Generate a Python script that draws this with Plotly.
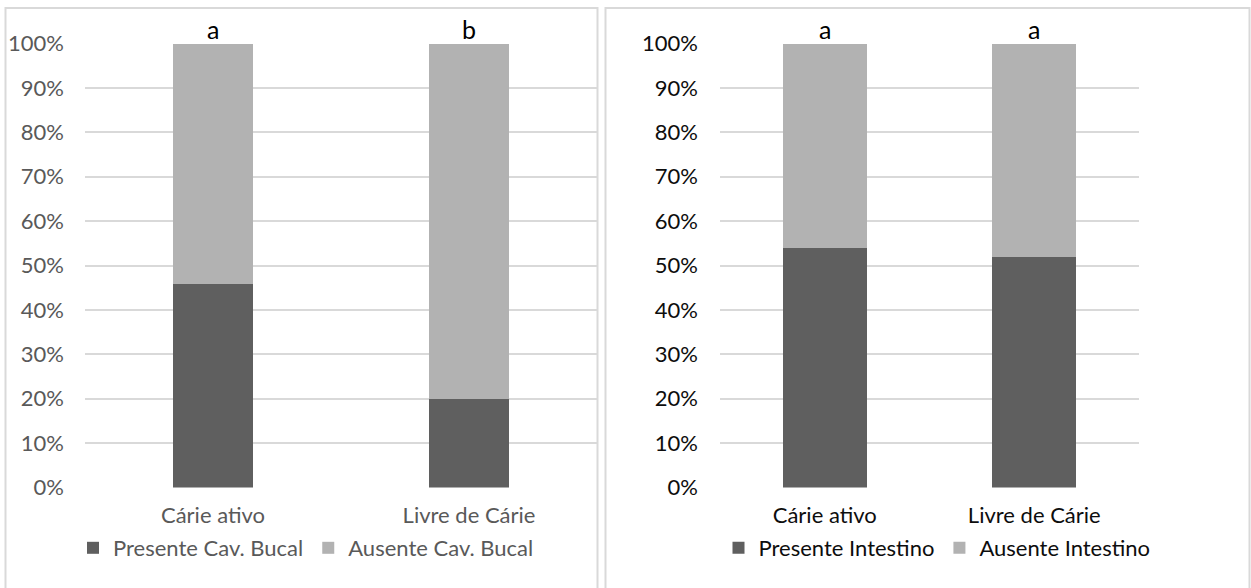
import plotly.graph_objects as go

categories = ["Cárie ativo", "Livre de Cárie"]
bucal_presente = [0.46, 0.20]
bucal_ausente = [0.54, 0.80]
bucal_letters = ["a", "b"]
intest_presente = [0.54, 0.52]
intest_ausente = [0.46, 0.48]
intest_letters = ["a", "a"]
tick_vals = [i / 10 for i in range(11)]
tick_text = [f"{i*10}%" for i in range(11)]

W, H = 1251, 588
DARK = "#5f5f5f"
LIGHT = "#b2b2b2"
GRID = "#d9d9d9"
FONT = "Lato"
GREY_TXT = "#595959"
BLACK_TXT = "#0d0d0d"

def px(x):
    return x / W

def py(y):
    return 1 - y / H

fig = go.Figure()

fig.add_trace(go.Bar(x=categories, y=bucal_presente, name="Presente Cav. Bucal",
                     marker_color=DARK, width=0.3125, xaxis="x", yaxis="y", legend="legend"))
fig.add_trace(go.Bar(x=categories, y=bucal_ausente, name="Ausente Cav. Bucal",
                     marker_color=LIGHT, width=0.3125, xaxis="x", yaxis="y", legend="legend"))
fig.add_trace(go.Bar(x=categories, y=intest_presente, name="Presente Intestino",
                     marker_color=DARK, width=0.4, xaxis="x2", yaxis="y2", legend="legend2"))
fig.add_trace(go.Bar(x=categories, y=intest_ausente, name="Ausente Intestino",
                     marker_color=LIGHT, width=0.4, xaxis="x2", yaxis="y2", legend="legend2"))

ydom = [py(487.5), py(43.5)]
axis_common = dict(showline=False, zeroline=False, ticks="", fixedrange=True, automargin=False)

fig.update_layout(
    template="none",
    width=W, height=H, autosize=False,
    margin=dict(l=0, r=0, t=0, b=0, pad=0, autoexpand=False),
    paper_bgcolor="white", plot_bgcolor="white",
    barmode="stack",
    font=dict(family=FONT, size=22, color=GREY_TXT),
    xaxis=dict(domain=[px(85), px(597)], anchor="y", showgrid=False, ticklabelstandoff=12,
               tickfont=dict(size=22, color=GREY_TXT), **axis_common),
    yaxis=dict(domain=ydom, anchor="x", range=[0, 1.0001], tickvals=tick_vals, ticktext=tick_text,
               showgrid=True, gridcolor=GRID, gridwidth=1.5, ticklabelstandoff=20,
               tickfont=dict(size=22, color=GREY_TXT), **axis_common),
    xaxis2=dict(domain=[px(720), px(1139)], anchor="y2", showgrid=False, ticklabelstandoff=12,
                tickfont=dict(size=22, color=BLACK_TXT), **axis_common),
    yaxis2=dict(domain=ydom, anchor="x2", range=[0, 1.0001], tickvals=tick_vals, ticktext=tick_text,
                showgrid=True, gridcolor=GRID, gridwidth=1.5, ticklabelstandoff=21,
                tickfont=dict(size=22, color=BLACK_TXT), **axis_common),
    legend=dict(orientation="h", x=px(306), xanchor="center", y=py(548), yanchor="middle",
                font=dict(size=22, color=GREY_TXT), bgcolor="rgba(0,0,0,0)",
                traceorder="normal", itemwidth=30, tracegroupgap=0),
    legend2=dict(orientation="h", x=px(937), xanchor="center", y=py(548), yanchor="middle",
                 font=dict(size=22, color=BLACK_TXT), bgcolor="rgba(0,0,0,0)",
                 traceorder="normal", itemwidth=30, tracegroupgap=0),
    bargap=0,
    showlegend=True,
)

annotations = []
for cat, lab in zip(categories, bucal_letters):
    annotations.append(dict(x=cat, y=1.0, xref="x", yref="y", text=lab, showarrow=False,
                            yanchor="bottom", yshift=-2, font=dict(size=25, color="#000000", family=FONT)))
for cat, lab in zip(categories, intest_letters):
    annotations.append(dict(x=cat, y=1.0, xref="x2", yref="y2", text=lab, showarrow=False,
                            yanchor="bottom", yshift=-2, font=dict(size=25, color="#000000", family=FONT)))
fig.update_layout(annotations=annotations)

shapes = [
    dict(type="rect", xref="paper", yref="paper", x0=px(5.5), x1=px(597.5), y0=py(600), y1=py(8),
         line=dict(color=GRID, width=2), fillcolor="rgba(0,0,0,0)", layer="below"),
    dict(type="rect", xref="paper", yref="paper", x0=px(605.5), x1=px(1249.5), y0=py(600), y1=py(8),
         line=dict(color=GRID, width=2), fillcolor="rgba(0,0,0,0)", layer="below"),
]
fig.update_layout(shapes=shapes)

fig.write_html("out.html",
               config={"displayModeBar": False},
               post_script="document.body.style.margin='0';document.body.style.overflow='hidden';")
